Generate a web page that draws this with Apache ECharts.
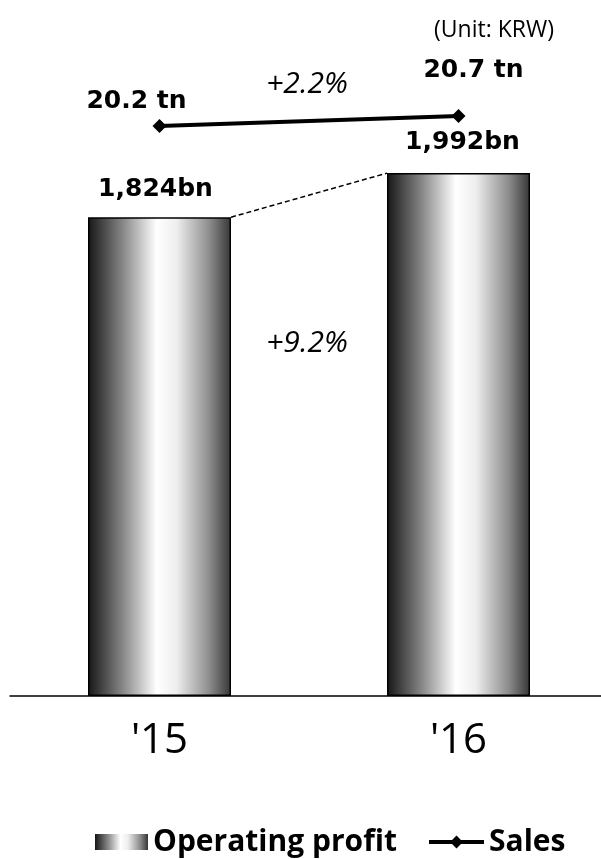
<!DOCTYPE html>
<html>
<head>
<meta charset="utf-8">
<script src="https://cdn.jsdelivr.net/npm/echarts@6/dist/echarts.min.js"></script>
<style>
  html, body { margin: 0; padding: 0; background: #fff; }
  #main { width: 601px; height: 859px; }
</style>
</head>
<body>
<div id="main"></div>
<script>
// chart values
const years = ["'15", "'16"];
const profit = [1824, 1992];
const sales = [20.2, 20.7];
const profitLabels = ['1,824bn', '1,992bn'];
const salesLabels = ['20.2 tn', '20.7 tn'];
const growth = ['+2.2%', '+9.2%'];

const boldFont = '"DejaVu Sans", sans-serif';
const plainFont = '"Open Sans", "Noto Sans", sans-serif';

let barFill = new echarts.graphic.LinearGradient(0, 0, 1, 0, [
    {offset: 0, color: '#161616'},
    {offset: 0.25, color: '#8a8a8a'},
    {offset: 0.48, color: '#ffffff'},
    {offset: 0.62, color: '#eeeeee'},
    {offset: 0.85, color: '#8c8c8c'},
    {offset: 1, color: '#363636'}
]);

let myChart = echarts.init(document.getElementById('main'));

let option = {
    animation: false,
    grid: {left: 10, width: 598, top: 66, bottom: 163, outerBoundsMode: 'none'},
    legend: [{
        data: [{name: 'Operating profit', icon: 'rect'}],
        left: 90, top: 822,
        itemWidth: 53, itemHeight: 16, itemGap: 5,
        itemStyle: {borderWidth: 0},
        textStyle: {fontFamily: plainFont, fontWeight: 'bold', fontSize: 30, color: '#000'}
    }, {
        data: ['Sales'],
        left: 422, top: 822,
        itemWidth: 55, itemHeight: 16, itemGap: 6,
        lineStyle: {width: 4, color: '#000'},
        itemStyle: {color: '#000'},
        textStyle: {fontFamily: plainFont, fontWeight: 'bold', fontSize: 30, color: '#000'}
    }],
    xAxis: {
        type: 'category',
        data: years,
        axisLine: {lineStyle: {color: '#000', width: 1.5}},
        axisTick: {show: false},
        axisLabel: {fontFamily: plainFont, fontSize: 42, color: '#000', margin: 24}
    },
    yAxis: [
        {type: 'value', min: 0, max: 2400, show: false, splitLine: {show: false}},
        {type: 'value', min: -8.3, max: 23.2, show: false, splitLine: {show: false}}
    ],
    series: [{
        name: 'Operating profit',
        type: 'bar',
        data: profit.map((v, i) => ({
            value: v,
            label: {offset: i === 0 ? [-4, 0] : [4, -3]}
        })),
        barWidth: 143,
        itemStyle: {color: barFill, borderColor: '#000', borderWidth: 1.5},
        label: {
            show: true, position: 'top', distance: 15,
            fontFamily: boldFont, fontWeight: 'bold', fontSize: 25, color: '#000',
            formatter: p => profitLabels[p.dataIndex]
        }
    }, {
        name: 'Sales',
        type: 'line',
        yAxisIndex: 1,
        data: sales.map((v, i) => ({
            value: v,
            label: {offset: i === 0 ? [-23, 3] : [15, -18]}
        })),
        symbol: 'diamond',
        symbolSize: 14,
        lineStyle: {color: '#000', width: 4},
        itemStyle: {color: '#000'},
        label: {
            show: true, position: 'top', distance: 8,
            fontFamily: boldFont, fontWeight: 'bold', fontSize: 25, color: '#000',
            formatter: p => salesLabels[p.dataIndex]
        }
    }]
};

myChart.setOption(option);

// dashed connector between bar tops and the annotation texts
let half = 71.5;
let p0 = myChart.convertToPixel({xAxisIndex: 0, yAxisIndex: 0}, [0, profit[0]]);
let p1 = myChart.convertToPixel({xAxisIndex: 0, yAxisIndex: 0}, [1, profit[1]]);
myChart.setOption({
    graphic: [{
        type: 'line',
        shape: {x1: p0[0] + half, y1: p0[1], x2: p1[0] - half, y2: p1[1]},
        style: {stroke: '#000', lineWidth: 1.5, lineDash: [5, 3]}
    }, {
        type: 'text', x: 307, y: 84,
        style: {text: growth[0], fontFamily: plainFont, fontStyle: 'italic', fontSize: 30, fill: '#000', align: 'center', verticalAlign: 'middle'}
    }, {
        type: 'text', x: 307, y: 343,
        style: {text: growth[1], fontFamily: plainFont, fontStyle: 'italic', fontSize: 30, fill: '#000', align: 'center', verticalAlign: 'middle'}
    }, {
        type: 'text', x: 494, y: 30,
        style: {text: '(Unit: KRW)', fontFamily: plainFont, fontSize: 23, fill: '#000', align: 'center', verticalAlign: 'middle'}
    }]
});
</script>
</body>
</html>
